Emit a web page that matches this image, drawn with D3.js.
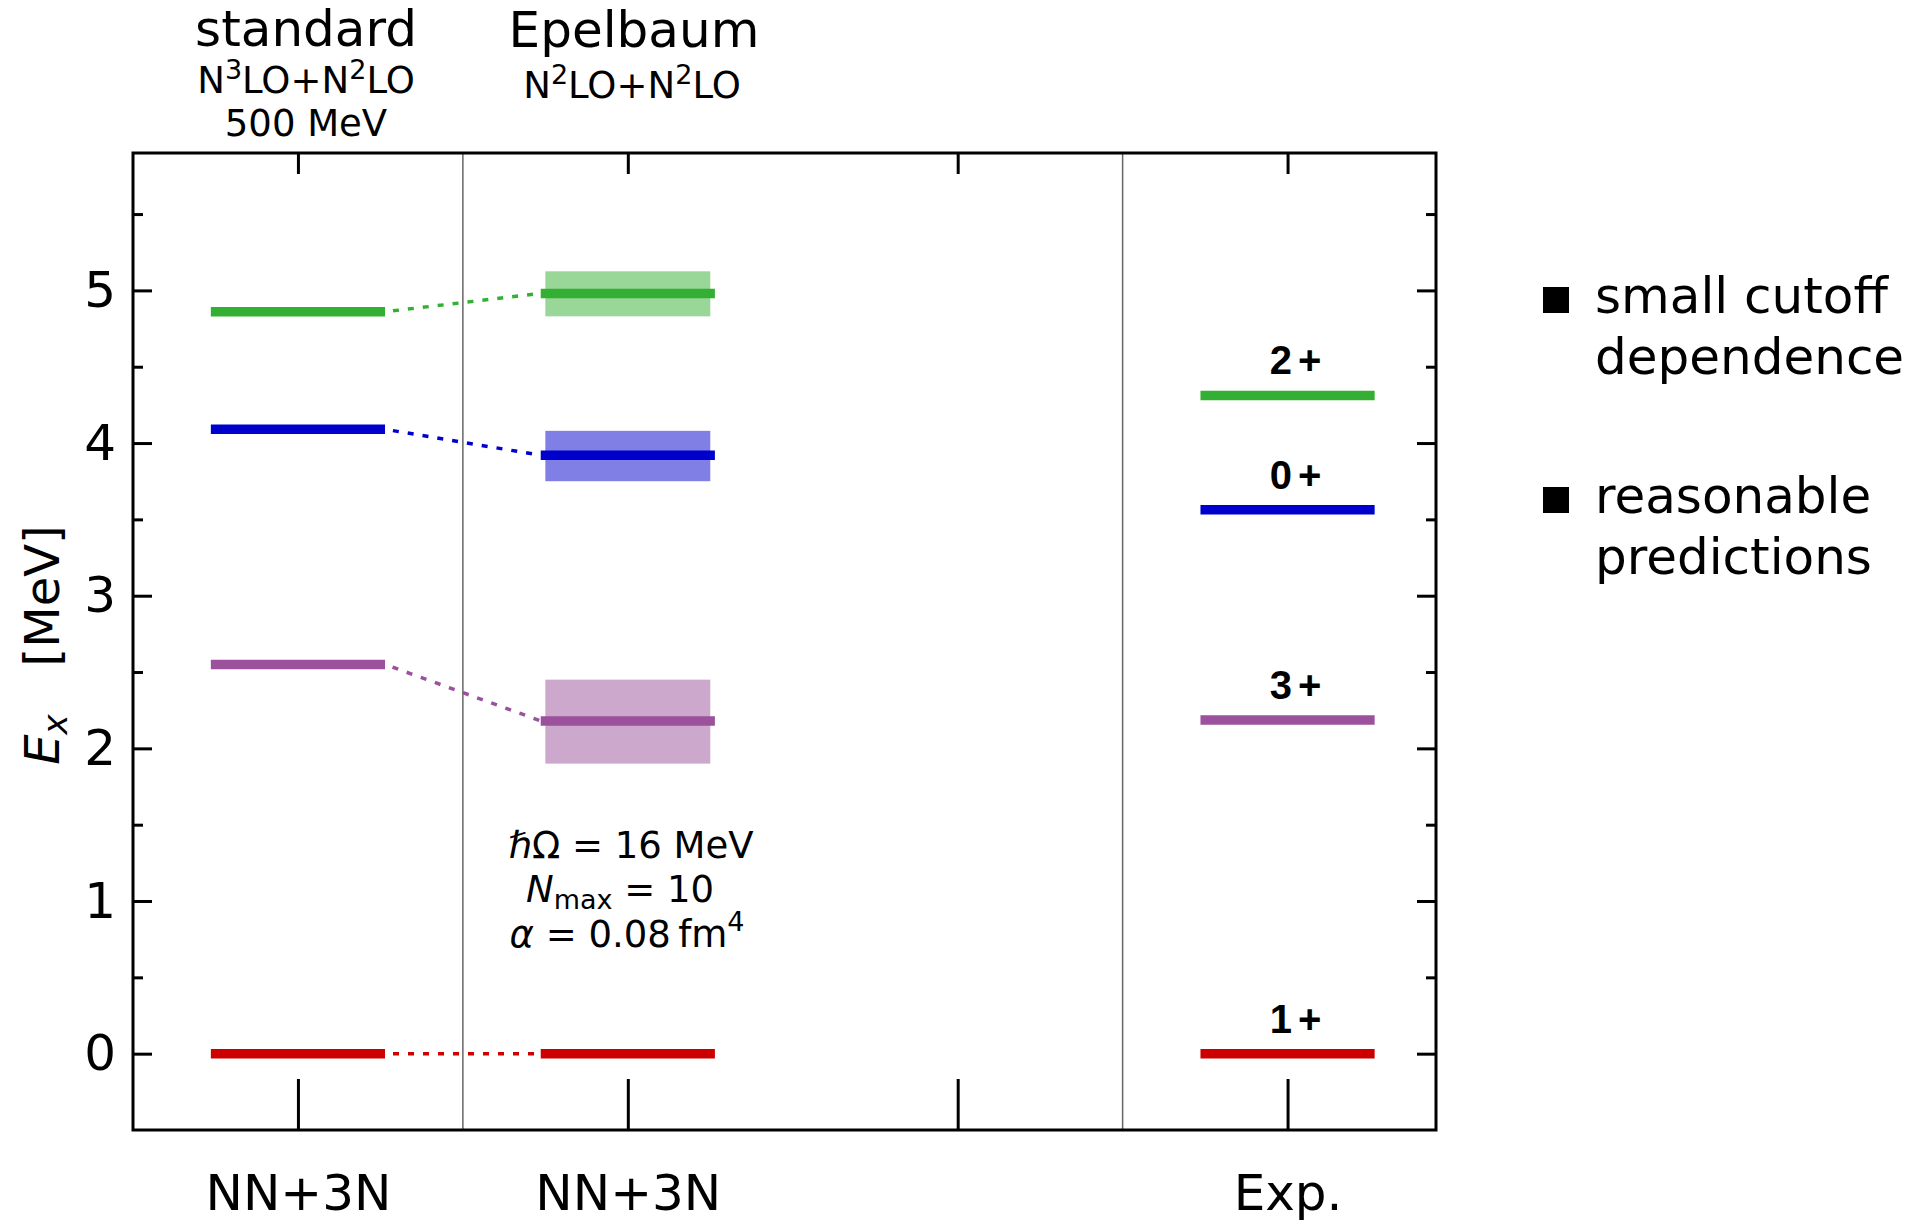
<!DOCTYPE html>
<html>
<head>
<meta charset="utf-8">
<script src="https://cdn.jsdelivr.net/npm/d3@7"></script>
<style>
	body { margin: 0; background: white; }
	text { font-family: "DejaVu Sans", sans-serif; fill: black; }
</style>
</head>
<body>
<div id="canvas"></div>
<script>

// level data, lowest state first
const states = ["1+", "3+", "0+", "2+"];
const standardLevels = [0, 2.55, 4.09, 4.86];
const epelbaumLevels = [0, 2.18, 3.92, 4.98];
const epelbaumLow = [0, 1.90, 3.75, 4.83];
const epelbaumHigh = [0, 2.45, 4.08, 5.125];
const expLevels = [0, 2.186, 3.563, 4.312];

const columnTicks = [1, 2, 3, 4];
const columnLabels = ["NN+3N", "NN+3N", "", "Exp."];
const yMajorTicks = [0, 1, 2, 3, 4, 5];
const yMinorTicks = [0.5, 1.5, 2.5, 3.5, 4.5, 5.5];
const separators = [1.5, 3.5];
const legendItems = [["small cutoff", "dependence"], ["reasonable", "predictions"]];

function drawChart() {

	// 1. Dimensions

	const width = 1915;
	const height = 1221;
	const margin = {top: 153, right: 479, bottom: 91, left: 133};
	const innerW = width - margin.left - margin.right;
	const innerH = height - margin.top - margin.bottom;
	const halfW = 0.264;
	const bandHalfW = 0.25;

	// 2. Canvas

	const svg = d3.select("#canvas")
		.append("svg")
		.attr("width", width)
		.attr("height", height);

	const bounds = svg.append("g")
		.attr("transform", `translate(${margin.left},${margin.top})`);

	// 3. Scales

	const x = d3.scaleLinear().domain([0.5, 4.45]).range([0, innerW]);
	const y = d3.scaleLinear().domain([-0.5, 5.9]).range([innerH, 0]);
	const color = d3.scaleOrdinal()
		.domain(states)
		.range(["#cc0000", "#9b519b", "#0000cc", "#33b033"]);

	const levels = states.map((s, i) => ({
		state: s,
		std: standardLevels[i],
		epe: epelbaumLevels[i],
		lo: epelbaumLow[i],
		hi: epelbaumHigh[i],
		exp: expLevels[i],
	}));

	// 4. Data

	bounds.append("g").selectAll("rect")
		.data(levels.filter(d => d.hi > d.lo))
		.join("rect")
		.attr("x", x(2 - bandHalfW))
		.attr("width", x(2 + bandHalfW) - x(2 - bandHalfW))
		.attr("y", d => y(d.hi))
		.attr("height", d => y(d.lo) - y(d.hi))
		.attr("fill", d => color(d.state))
		.attr("fill-opacity", 0.5);

	bounds.append("g").selectAll("line")
		.data(levels)
		.join("line")
		.attr("x1", x(1 + halfW))
		.attr("x2", x(2 - halfW))
		.attr("y1", d => y(d.std))
		.attr("y2", d => y(d.epe))
		.attr("stroke", d => color(d.state))
		.attr("stroke-width", 3.5)
		.attr("stroke-dasharray", "6,9")
		.attr("stroke-dashoffset", -8);

	const columns = [
		{pos: 1, key: "std"},
		{pos: 2, key: "epe"},
		{pos: 4, key: "exp"},
	];
	columns.forEach(c => {
		bounds.append("g").selectAll("line")
			.data(levels)
			.join("line")
			.attr("x1", x(c.pos - halfW))
			.attr("x2", x(c.pos + halfW))
			.attr("y1", d => y(d[c.key]))
			.attr("y2", d => y(d[c.key]))
			.attr("stroke", d => color(d.state))
			.attr("stroke-width", 9.5);
	});

	bounds.append("g").selectAll("text")
		.data(levels)
		.join("text")
		.attr("x", x(4) + 11)
		.attr("y", d => y(d.exp) - 21)
		.attr("text-anchor", "middle")
		.style("font-family", "'Liberation Sans', Arial, sans-serif")
		.style("font-weight", "bold")
		.style("font-size", "40px")
		.style("letter-spacing", "6px")
		.text(d => d.state);

	bounds.append("g").selectAll("line")
		.data(separators)
		.join("line")
		.attr("x1", d => x(d))
		.attr("x2", d => x(d))
		.attr("y1", 0)
		.attr("y2", innerH)
		.attr("stroke", "#666")
		.attr("stroke-width", 1.5);

	// 5. Axes

	const styleAxis = g => {
		g.select(".domain").remove();
		g.selectAll(".tick line").attr("stroke", "black").attr("stroke-width", 3);
	};

	bounds.append("g")
		.call(d3.axisLeft(y).tickValues(yMajorTicks).tickSize(-19).tickFormat(d3.format("d")))
		.call(styleAxis)
		.call(g => g.selectAll(".tick text").style("font-size", "50px").attr("x", -17));

	bounds.append("g")
		.call(d3.axisLeft(y).tickValues(yMinorTicks).tickSize(-10).tickFormat(""))
		.call(styleAxis);

	bounds.append("g")
		.attr("transform", `translate(${innerW},0)`)
		.call(d3.axisRight(y).tickValues(yMajorTicks).tickSize(-19).tickFormat(""))
		.call(styleAxis);

	bounds.append("g")
		.attr("transform", `translate(${innerW},0)`)
		.call(d3.axisRight(y).tickValues(yMinorTicks).tickSize(-10).tickFormat(""))
		.call(styleAxis);

	bounds.append("g")
		.attr("transform", `translate(0,${innerH})`)
		.call(d3.axisBottom(x).tickValues(columnTicks).tickSize(-51)
			.tickFormat((d, i) => columnLabels[i]))
		.call(styleAxis)
		.call(g => g.selectAll(".tick text")
			.style("font-size", "50px")
			.attr("y", 80)
			.attr("dy", 0));

	bounds.append("g")
		.call(d3.axisTop(x).tickValues(columnTicks).tickSize(-21).tickFormat(""))
		.call(styleAxis);

	bounds.append("rect")
		.attr("width", innerW)
		.attr("height", innerH)
		.attr("fill", "none")
		.attr("stroke", "black")
		.attr("stroke-width", 3);

	// y label
	const yLabel = svg.append("text")
		.attr("transform", "translate(59,645) rotate(-90)")
		.attr("text-anchor", "middle")
		.style("font-size", "48px");
	yLabel.append("tspan").style("font-style", "italic").text("E");
	yLabel.append("tspan").style("font-style", "italic").style("font-size", "34px")
		.attr("dy", 8).text("x");
	yLabel.append("tspan").attr("dy", -8).text("\u2003[MeV]");

	// 6. Peripherals

	svg.append("text")
		.attr("x", 306).attr("y", 46)
		.attr("text-anchor", "middle")
		.style("font-size", "50px")
		.text("standard");

	const sub1 = svg.append("text")
		.attr("x", 306).attr("y", 93)
		.attr("text-anchor", "middle")
		.style("font-size", "37px");
	sub1.append("tspan").text("N");
	sub1.append("tspan").attr("dy", -14).style("font-size", "27px").text("3");
	sub1.append("tspan").attr("dy", 14).text("LO+N");
	sub1.append("tspan").attr("dy", -14).style("font-size", "27px").text("2");
	sub1.append("tspan").attr("dy", 14).text("LO");

	svg.append("text")
		.attr("x", 306).attr("y", 136)
		.attr("text-anchor", "middle")
		.style("font-size", "37px")
		.text("500 MeV");

	svg.append("text")
		.attr("x", 634).attr("y", 47)
		.attr("text-anchor", "middle")
		.style("font-size", "50px")
		.text("Epelbaum");

	const sub2 = svg.append("text")
		.attr("x", 632).attr("y", 98)
		.attr("text-anchor", "middle")
		.style("font-size", "37px");
	sub2.append("tspan").text("N");
	sub2.append("tspan").attr("dy", -14).style("font-size", "27px").text("2");
	sub2.append("tspan").attr("dy", 14).text("LO+N");
	sub2.append("tspan").attr("dy", -14).style("font-size", "27px").text("2");
	sub2.append("tspan").attr("dy", 14).text("LO");

	// parameters of the calculation
	const note = svg.append("g").style("font-size", "37px");
	const l1 = note.append("text").attr("x", 631).attr("y", 858).attr("text-anchor", "middle");
	l1.append("tspan").style("font-style", "italic").text("\u210F");
	l1.append("tspan").text("\u03A9 = 16 MeV");
	const l2 = note.append("text").attr("x", 620).attr("y", 902).attr("text-anchor", "middle");
	l2.append("tspan").style("font-style", "italic").text("N");
	l2.append("tspan").style("font-size", "27px").attr("dy", 7).text("max");
	l2.append("tspan").attr("dy", -7).text(" = 10");
	const l3 = note.append("text").attr("x", 627).attr("y", 947).attr("text-anchor", "middle");
	l3.append("tspan").style("font-style", "italic").text("\u03B1");
	l3.append("tspan").text(" = 0.08\u2009fm");
	l3.append("tspan").style("font-size", "27px").attr("dy", -16).text("4");

	// legend
	const legend = svg.append("g")
		.attr("transform", "translate(1543,0)");
	legendItems.forEach((lines, i) => {
		const top = 287 + i * 200;
		legend.append("rect")
			.attr("x", 0).attr("y", top)
			.attr("width", 26).attr("height", 26)
			.attr("fill", "black");
		lines.forEach((t, j) => {
			legend.append("text")
				.attr("x", 52)
				.attr("y", top + 26 + j * 61)
				.style("font-size", "50px")
				.text(t);
		});
	});
}

drawChart();
</script>
</body>
</html>
